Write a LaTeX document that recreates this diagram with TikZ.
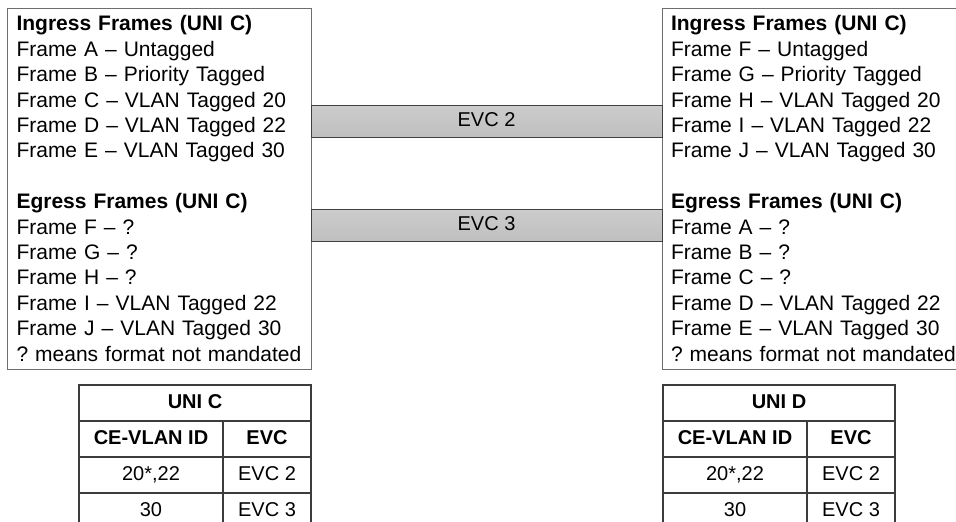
\documentclass[tikz,border=0pt]{standalone}
\usepackage{fontspec}
\setmainfont{Liberation Sans}
\usetikzlibrary{positioning}
\definecolor{boxline}{HTML}{6E6E6E}
\definecolor{tabline}{HTML}{3C3C3C}
\newcommand\unifont{\fontsize{21pt}{25.4pt}\selectfont\frenchspacing\hyphenpenalty=10000\relax}

\begin{document}
\begin{tikzpicture}[x=1pt,y=-1pt,
  unibox/.style={draw=boxline,line width=1pt,outer sep=0pt,anchor=north west,minimum height=361pt,text width=286pt,align=left,inner xsep=9pt,inner ysep=0pt,font=\unifont},
  evcbar/.style={draw=black!75,line width=1pt,outer sep=0pt,top color=black!20,middle color=black!8,bottom color=black!25,minimum width=351pt,minimum height=32pt,inner sep=0pt,text height=14.5pt,text depth=3pt,font=\fontsize{20pt}{24pt}\selectfont},
  cell/.style={draw=tabline,line width=1.2pt,outer sep=0pt,anchor=north west,minimum height=36pt,inner sep=0pt,text height=14.5pt,text depth=3pt,font=\fontsize{20pt}{24pt}\selectfont},
  cellhd/.style={cell,font=\fontsize{20pt}{24pt}\selectfont\bfseries},
  colid/.style={minimum width=144pt},
  colevc/.style={minimum width=88pt}]
\clip (0,0) rectangle (956,522);
% frame lists at the two UNIs
\node[unibox] (unic) at (7.5,8) {\textbf{Ingress Frames (UNI C)}\\Frame A -- Untagged\\Frame B -- Priority Tagged\\Frame C -- VLAN Tagged 20\\Frame D -- VLAN Tagged 22\\Frame E -- VLAN Tagged 30\\[25.4pt]\textbf{Egress Frames (UNI C)}\\Frame F -- ?\\Frame G -- ?\\Frame H -- ?\\Frame I -- VLAN Tagged 22\\Frame J -- VLAN Tagged 30\\? means format not mandated};
\node[unibox] (unid) at (662,8) {\textbf{Ingress Frames (UNI C)}\\Frame F -- Untagged\\Frame G -- Priority Tagged\\Frame H -- VLAN Tagged 20\\Frame I -- VLAN Tagged 22\\Frame J -- VLAN Tagged 30\\[25.4pt]\textbf{Egress Frames (UNI C)}\\Frame A -- ?\\Frame B -- ?\\Frame C -- ?\\Frame D -- VLAN Tagged 22\\Frame E -- VLAN Tagged 30\\? means format not mandated};
% the two EVCs
\node[evcbar] (evc2) at (486.5,121) {EVC 2};
\node[evcbar] (evc3) at (486.5,225) {EVC 3};
% CE-VLAN ID / EVC map, UNI C
\node[cellhd,minimum width=232pt] (ctitle) at (79,385) {UNI C};
\node[cellhd,colid] (cid) at (ctitle.south west) {CE-VLAN ID};
\node[cellhd,colevc] (cevc) at (cid.north east) {EVC};
\node[cell,colid] (cida) at (cid.south west) {20*,22};
\node[cell,colevc] (cevca) at (cida.north east) {EVC 2};
\node[cell,colid] (cidb) at (cida.south west) {30};
\node[cell,colevc] (cevcb) at (cidb.north east) {EVC 3};
% CE-VLAN ID / EVC map, UNI D
\node[cellhd,minimum width=232pt] (dtitle) at (663,385) {UNI D};
\node[cellhd,colid] (did) at (dtitle.south west) {CE-VLAN ID};
\node[cellhd,colevc] (devc) at (did.north east) {EVC};
\node[cell,colid] (dida) at (did.south west) {20*,22};
\node[cell,colevc] (devca) at (dida.north east) {EVC 2};
\node[cell,colid] (didb) at (dida.south west) {30};
\node[cell,colevc] (devcb) at (didb.north east) {EVC 3};
\end{tikzpicture}
\end{document}
